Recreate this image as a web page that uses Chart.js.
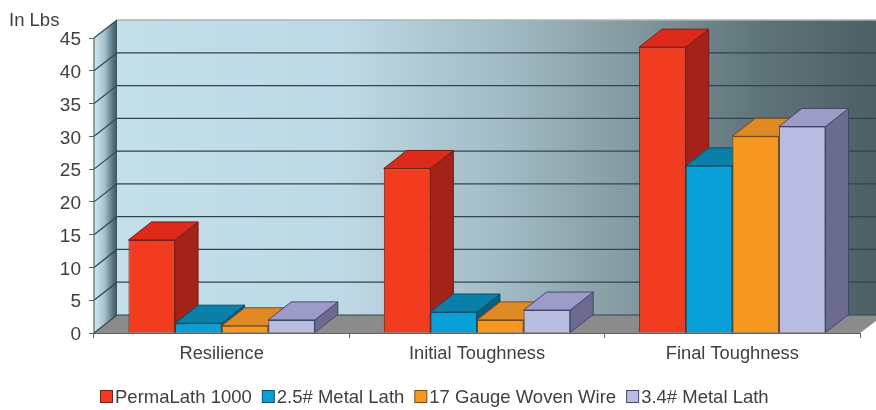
<!DOCTYPE html>
<html><head><meta charset="utf-8">
<style>html,body{margin:0;padding:0;background:#fff}#w{width:876px;height:410px;position:relative}canvas{display:block}</style>
<script src="https://cdn.jsdelivr.net/npm/chart.js@4"></script>
</head><body><div id="w"><canvas id="c" width="876" height="410"></canvas></div>
<script>
const categories = ['Resilience','Initial Toughness','Final Toughness'];
const seriesNames = ['PermaLath 1000','2.5# Metal Lath','17 Gauge Woven Wire','3.4# Metal Lath'];
const permaLath = [14.2, 25.1, 43.6];
const metalLath25 = [1.5, 3.2, 25.5];
const wovenWire = [1.1, 2.0, 30.0];
const metalLath34 = [2.0, 3.5, 31.5];
const yTicks = [0,5,10,15,20,25,30,35,40,45];
const unitLabel = 'In Lbs';
const frontColors = ['#f23c1f','#08a0d6','#f6981f','#b7bce0'];
const topColors = ['#de2a1b','#0a7fa8','#e08a26','#9d9cc9'];
const sideColors = ['#a3231b','#0a5f80','#a8651a','#6b6b8f'];
const edgeColors = ['#7a1c12','#06506e','#7a4c14','#46466a'];
const FONT = '"Liberation Sans",sans-serif';
const TEXT = '#404040';
const DX = 23, DY = 18;

function poly(ctx, pts, fill, stroke){
  ctx.beginPath();
  pts.forEach((p,i)=> i?ctx.lineTo(p[0],p[1]):ctx.moveTo(p[0],p[1]));
  ctx.closePath();
  if(fill){ctx.fillStyle=fill;ctx.fill();}
  if(stroke){ctx.strokeStyle=stroke;ctx.lineWidth=1;ctx.stroke();}
}

const scene = {
  id:'scene',
  beforeDatasetsDraw(chart){
    const ctx=chart.ctx, a=chart.chartArea, y=chart.scales.y, W=chart.width;
    const y0=y.getPixelForValue(0), yT=y.getPixelForValue(45);
    ctx.save();
    let g=ctx.createLinearGradient(a.left+DX,0,W,0);
    g.addColorStop(0,'#c2dfea'); g.addColorStop(0.30,'#bdd9e5'); g.addColorStop(0.50,'#a3bcc6');
    g.addColorStop(0.68,'#83999f'); g.addColorStop(0.85,'#5f7479'); g.addColorStop(1,'#4c5f64');
    ctx.fillStyle=g; ctx.fillRect(a.left+DX,yT-DY,W-a.left-DX,y0-yT);
    g=ctx.createLinearGradient(a.left,0,a.left+DX,0);
    g.addColorStop(0,'#d3e8ef'); g.addColorStop(0.45,'#a6c3ce'); g.addColorStop(0.8,'#5d7882'); g.addColorStop(1,'#3d545c');
    poly(ctx,[[a.left,yT],[a.left+DX,yT-DY],[a.left+DX,y0-DY],[a.left,y0]],g);
    poly(ctx,[[a.left,y0],[a.left+DX,y0-DY],[W,y0-DY],[W,y0-12],[a.right,y0]],'#8b8b8b');
    ctx.lineWidth=1.2; ctx.strokeStyle='#2f4650';
    yTicks.forEach(v=>{
      const p=y.getPixelForValue(v);
      ctx.beginPath();ctx.moveTo(a.left,p);ctx.lineTo(a.left+DX,p-DY);
      if(v<45)ctx.lineTo(W,p-DY);
      ctx.stroke();
    });
    ctx.strokeStyle='#a9b4b6'; ctx.lineWidth=1.5;
    ctx.beginPath();ctx.moveTo(a.left+DX,yT-DY);ctx.lineTo(W,yT-DY);ctx.stroke();
    ctx.strokeStyle='#55656a'; ctx.lineWidth=1.2;
    ctx.beginPath();ctx.moveTo(a.left,yT);ctx.lineTo(a.left,y0);ctx.stroke();
    ctx.restore();
    const metas=chart.data.datasets.map((d,i)=>chart.getDatasetMeta(i));
    categories.forEach((c,ci)=>{
      metas.forEach((m,di)=>{
        const b=m.data[ci], l=b.x-b.width/2, r=b.x+b.width/2, t=b.y, base=b.base;
        ctx.save();
        poly(ctx,[[r,t],[r+DX,t-DY],[r+DX,base-DY],[r,base]],sideColors[di],edgeColors[di]);
        poly(ctx,[[l,t],[l+DX,t-DY],[r+DX,t-DY],[r,t]],topColors[di],edgeColors[di]);
        ctx.restore();
        b.draw(ctx);
      });
    });
    return false;
  },
  afterDraw(chart){
    const ctx=chart.ctx;
    ctx.save();
    ctx.textBaseline='alphabetic'; ctx.fillStyle=TEXT;
    ctx.font='18.5px '+FONT; ctx.textAlign='left';
    ctx.fillText(unitLabel,9,26);
    let x=100; const yB=403;
    chart.data.datasets.forEach((d,i)=>{
      ctx.fillStyle=d.backgroundColor; ctx.strokeStyle=d.borderColor; ctx.lineWidth=1;
      ctx.fillRect(x+.5,390.5,12,12); ctx.strokeRect(x+.5,390.5,12,12);
      ctx.fillStyle=TEXT;
      ctx.fillText(d.label,x+15,yB);
      x+=15+ctx.measureText(d.label).width+10;
    });
    ctx.restore();
  }
};

const seriesValues=[permaLath,metalLath25,wovenWire,metalLath34];
new Chart(document.getElementById('c'),{
  type:'bar',
  data:{labels:categories,datasets:seriesNames.map((n,i)=>({
    label:n,data:seriesValues[i],backgroundColor:frontColors[i],borderColor:edgeColors[i],borderWidth:1,
    categoryPercentage:0.73,barPercentage:1
  }))},
  options:{
    responsive:false,animation:false,devicePixelRatio:1,
    layout:{padding:{top:38,right:16,left:0,bottom:0}},
    plugins:{legend:{display:false},title:{display:false},tooltip:{enabled:false}},
    scales:{
      x:{offset:true,
        afterFit(s){s.height=77;},
        border:{display:true,color:'#55656a',width:1},
        grid:{drawOnChartArea:false,drawTicks:true,tickLength:5,color:'#55656a'},
        ticks:{color:TEXT,font:{family:FONT,size:18.3},padding:5,maxRotation:0}},
      y:{min:0,max:45,
        afterFit(s){s.width=94;},
        afterBuildTicks(s){s.ticks=yTicks.map(v=>({value:v}));},
        border:{display:false},
        grid:{drawOnChartArea:false,drawTicks:true,tickLength:5,color:'#55656a'},
        ticks:{color:TEXT,font:{family:FONT,size:19},padding:8,labelOffset:2}}
    }
  },
  plugins:[scene]
});
</script></body></html>
